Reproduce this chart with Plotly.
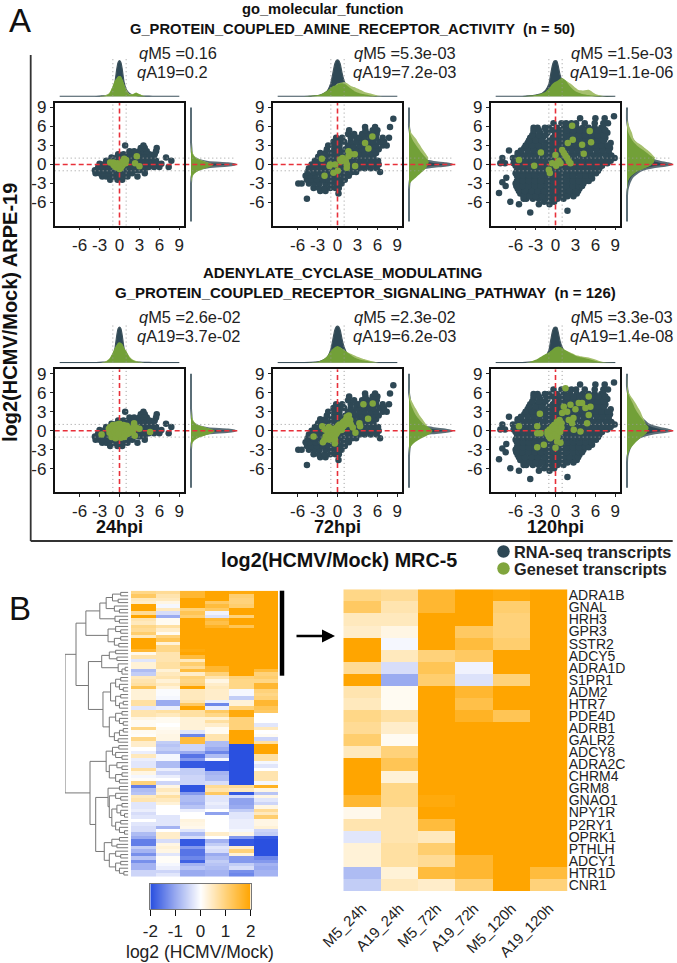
import plotly.graph_objects as go

W, H = 677, 963

# ---------- scatter clouds: {log2 ARPE-19 level: [log2 MRC-5 values]} (same background cloud in both rows)
DARK_24 = {
 -2.4:[-1.4,-.3,.4], -1.9:[-2.6,-2,-1.4,-.8,-.1,.6,1.2,2.7],
 -1.4:[-3.6,-3,-2.4,-1.6,-.9,-.2,.5,1.2,1.9,3.8],
 -.9:[-3.7,-3,-2.3,-1.5,-.8,0,.8,1.5,2.3,3,3.8],
 -.4:[-3.2,-2.5,-1.7,-1,-.2,.6,1.4,2.1,2.9,3.6,4.4,5.2,6,7.4],
 .1:[-3,-2.2,-1.4,-.6,.2,1,1.8,2.5,3.3,4,4.8,5.4,6.3],
 .6:[-2,-1.3,-.5,.3,1.1,1.9,2.6,3.4,4.2,4.9,5.5,7.8],
 1.1:[-1.2,-.4,.4,1.2,2,2.8,3.5,4.3,5.1,7],
 1.6:[-.2,.6,1.4,2.2,3,3.7,4.5,5.3],
 2.1:[1.5,2.2,3,3.6,4.1,5.5], 2.6:[3.2,3.8,5.6], 3.0:[.85,3.6],
}
DARK_72 = {
 -5.4:[-4.6], -4.6:[.15], -4.2:[-2.6,-1.8],
 -3.7:[-3.6,-2.8,-1.9,-1.1,-.3,.2],
 -3.0:[-5.9,-5.4,-4.3,-3.5,-2.7,-1.8,-1,-.2,.6],
 -2.4:[-4.6,-3.9,-3.1,-2.2,-1.4,-.5,.3,1.1],
 -1.8:[-4.8,-4.1,-3.3,-2.4,-1.6,-.8,0,.9,1.7],
 -1.2:[-4.5,-3.6,-2.8,-2,-1.2,-.3,.5,1.3,2.2,2.8,6.4],
 -.6:[-4.3,-3.5,-2.6,-1.8,-.9,-.1,.8,1.6,2.4,3.3,4.1,5,5.9],
 0:[-3.9,-3.1,-2.2,-1.4,-.5,.3,1.2,2,2.9,3.7,4.6,5.4,6.2],
 .6:[-3.4,-2.7,-1.8,-1,-.1,.7,1.6,2.4,3.3,4.1,5,5.8,6.1],
 1.2:[-2.9,-2.2,-1.4,-.5,.3,1.2,2,2.9,3.7,4.6,5.4],
 1.8:[-2.6,-1.8,-.9,-.1,.8,1.6,2.4,3.3,4.1,5,5.8],
 2.4:[-1.6,-.5,.3,1.2,2,2.9,3.7,4.6,5.4,6.2],
 3.0:[-1.4,-.5,.3,1.6,2.4,3.3,4.1,5,5.8,6.8,7.4],
 3.6:[-.6,.1,1,2,2.9,3.7,4.6,5.4,6.3,7],
 4.2:[-.2,.7,2,2.9,3.3,4.1,5,5.8,6.8,7.75],
 4.8:[1.6,2.5,3.7,4.6,5.4,5.9], 5.4:[1.75,4.2,5.3,6],
 5.9:[4.15,5.65,7.9], 7.2:[8.4],
}
DARK_120 = {
 -7.6:[-3.8], -7.3:[1.8], -6.3:[-5.5,-2.5,-.9], -5.9:[-6.8,-1.7,-.2], -4.5:[-8.5],
 -3.4:[-7.5], -2.8:[-8], -2.1:[-7.4], 2.2:[-7],
 -5.4:[-4.8,-4.4,-3.4,-2.5,-1.5,-.6,.3,1.2],
 -4.6:[-5.3,-4.3,-3.4,-2.5,-1.5,-.5,.4,1.4,2.3,3.2],
 -3.8:[-5.7,-4.8,-3.8,-2.9,-2,-1,-.1,.9,1.8,2.8,3.6],
 -3:[-6,-5.2,-4.3,-3.4,-2.4,-1.5,-.5,.4,1.3,2.3,3.3,4.2],
 -2.2:[-5.6,-4.7,-3.8,-2.9,-1.9,-1,0,.9,1.9,2.8,3.8,4.7,5.5],
 -1.4:[-6,-5.1,-4.2,-3.3,-2.4,-1.4,-.5,.5,1.4,2.3,3.3,4.2,5.2,6.1],
 -.6:[-5.6,-4.7,-3.7,-2.8,-1.9,-.9,0,1,1.9,2.9,3.8,4.8,5.7,6.6],
 .2:[-8.3,-7.6,-6.3,-5.2,-4.3,-3.3,-2.4,-1.4,-.5,.5,1.4,2.4,3.3,4.3,5.2,6.2,7.1,7.8],
 1:[-8,-6.4,-5.7,-4.7,-3.8,-2.9,-1.9,-1,0,.9,1.9,2.8,3.8,4.7,5.7,6.6,7.6,8.6,8.9],
 1.8:[-5.7,-5.2,-4.2,-3.3,-2.4,-1.4,-.5,.5,1.4,2.4,3.3,4.3,5.2,6.2,7.1,8],
 2.6:[-4.7,-3.8,-2.8,-1.9,-.9,0,1,1.9,2.9,3.8,4.8,5.7,6.7,7.6,8.2],
 3.4:[-4.2,-3.3,-2.4,-1.4,-.5,.5,1.4,2.4,3.3,4.3,5.2,6.2,7.1,8.3],
 4.2:[-3.8,-2.8,-1.9,-.4,.4,1.2,2.1,3,3.9,4.8,5.7,6.6,7.5],
 5:[-3.3,-2.3,-1.2,.3,1.3,2.2,3.1,4,5,5.9,6.8,7.8],
 5.8:[-3.3,-2.7,-1.6,-1,.2,1.3,2.2,3.2,4.1,5,5.9,6.9,7.2],
 6.5:[-.3,.9,1.6,2.4,3.1,4.4,5.9,7.2,7.9],
 7.3:[3.7,6,7.4], 7.6:[8.8],
}
DARK_120_B = {
 -5:[-4.8,-3.9,-3,-2,-1,-.1,.8,1.8,2.7],
 -4.2:[-5.5,-4.6,-3.6,-2.7,-1.7,-.8,.2,1.1,2.1,3,3.4],
 -3.4:[-5.9,-5,-4.1,-3.1,-2.2,-1.2,-.3,.7,1.6,2.6,3.5,4],
 -2.6:[-5.8,-4.9,-4,-3.1,-2.2,-1.2,-.3,.7,1.6,2.6,3.5,4.5,5],
 -1.8:[-5.8,-4.9,-4,-3.1,-2.1,-1.2,-.2,.7,1.7,2.6,3.6,4.5,5.4],
 -1:[-5.8,-4.9,-3.9,-3,-2.1,-1.2,-.2,.7,1.7,2.6,3.6,4.5,5.5,6.4],
 -.2:[-6,-5,-4,-3,-2.1,-1.2,-.2,.7,1.7,2.6,3.6,4.5,5.5,6.4,7],
 .6:[-6.2,-5.4,-4.5,-3.6,-2.6,-1.7,-.7,.2,1.2,2.1,3.1,4,5,5.9,6.9,7.7,8.3],
 1.4:[-5.7,-4.7,-3.8,-2.9,-1.9,-1,0,.9,1.9,2.8,3.8,4.7,5.7,6.6,7.6,8.4],
 2.2:[-5.2,-4.2,-3.3,-2.4,-1.4,-.5,.5,1.4,2.4,3.3,4.3,5.2,6.2,7.1,8],
 3:[-4.5,-3.5,-2.6,-1.6,-.7,.3,1.2,2.2,3.1,4.1,5,6,6.9,7.9],
 3.8:[-4,-3,-2.1,-.9,.1,.9,1.8,2.7,3.6,4.5,5.5,6.4,7.3],
 4.6:[-3.5,-2.5,-1.5,-.1,.8,1.7,2.6,3.5,4.5,5.4,6.3,7.3],
 5.4:[-3.3,-2.5,-1.4,-.4,.8,1.7,2.7,3.6,4.5,5.5,6.4,7.5],
}

# ---------- geneset points (x = MRC-5, y = ARPE-19)
G1_24_X = [-1.4,-.9,-.6,-.4,-.2,0,.2,.4,.6,.8,1,-.6,-.2,.2,.5,.7,-.3,0,2.6,2.35,3,-.9,.9]
G1_24_Y = [.3,.3,0,-.3,-.5,-.7,-.5,-.2,.1,.4,.7,-.4,-.1,.1,.5,.9,.2,-.2,1.3,.2,-.3,-.1,.2]
G1_72_X = [-2.35,-1.2,-1.95,-.6,.05,.55,.9,1.65,2,2.6,1.65,1.4,1.4,2.65,4.15,4.65,5.25,-.35,-1.1,.75,.4,1.25]
G1_72_Y = [.9,-.25,-1.8,-1.3,-1,.5,.8,2.1,1.6,1.6,1.3,0,-.5,-.25,3.4,2.5,4.4,0,0,1,.8,.5]
G1_120_X = [-5.5,-3.2,-2.2,-.85,-1,-.5,0,.25,.75,1,1.25,1.75,2.25,1.85,2.5,2.6,4,4.25,5.15,5.35,.5,1.5,2,.1]
G1_120_Y = [.7,-.2,1.9,-1.35,-.85,.2,1.5,.2,.2,2.3,1.8,1,.2,3.4,6.1,3.9,3.1,1.7,5.3,3.5,.6,1.4,.5,-.2]
G2_24_X = [-2.7,-1.6,-1.5,-1.4,-1.3,-1.2,-1.1,-1,-1,-.9,-.8,-.7,-.7,-.6,-.5,-.4,-.4,-.3,-.2,-.1,0,0,.1,.2,.3,.3,.4,.5,.6,.7,.8,.9,1,1.1,1.2,1.3,1.4,1.6,1.8,2,2.2,2.3,2.5,3,4.6,-.6,.2,.7,-.2]
G2_24_Y = [-.6,.3,-.3,.6,0,-1,.5,-.5,.9,.1,-.8,.7,-.2,.3,-.6,1,.1,-.9,.6,-.2,1.1,-.7,.3,-1.1,.8,-.3,.1,-.7,.9,.2,-.4,.5,-.1,.8,-.5,.3,.1,-.3,.4,-.2,1.2,-.8,.5,.3,-.2,-1.2,.6,-1,-.5]
G2_72_X = [-3.6,-2.3,-2.2,-2,-1.9,-1.8,-1.6,-1.5,-1.3,-1.2,-1.1,-1,-.9,-.8,-.7,-.6,-.5,-.4,-.3,-.2,-.1,0,.1,.2,.3,.4,.5,.6,.8,.9,1,1.2,1.3,1.5,1.7,1.9,2,2.3,2.7,3.3,3.4,3.9,4.6,5.3,-.4,.6,-1.3,1.4]
G2_72_Y = [-.9,.7,-1.8,-1.5,.2,-.9,-1.2,-.2,-.9,-1.4,.1,-.5,-1,-.1,-.6,.3,-.4,-1.3,.1,-.5,.5,-.2,.8,.2,1,.3,.7,.2,1.3,.7,1.5,1,1.8,1.2,2.4,1.7,1,.5,-.3,1.2,.7,4.2,1.9,4.3,-2,.1,.6,2.2]
G2_120_X = [-5.5,-2.35,-2.75,-2.75,-2.25,-2.75,-1.75,-1.2,-1,-.8,-.6,-.4,-.2,0,.1,.3,.5,.6,.7,.9,-1.2,-.9,-.5,-.2,.2,.6,.25,0,.75,1.5,5,3.5,4,4.5,5.25,5,4.75,2.25,1.25,1,1.75,2.5,2,2.75,3.75,3,2.7,.4,-.2,.9]
G2_120_Y = [.7,2.7,.7,-.4,-.4,-2.6,-2.2,-.5,-.9,-1.2,-.4,-.9,-.1,-.6,.3,-.9,.5,1,-.2,1.2,-.1,.2,.6,.9,1.4,1.7,-1.7,-2.7,-1.9,6.7,5.4,4.4,4.4,3.6,3.8,2.5,1.2,4.1,3.8,2.8,3,1.2,1.7,.15,-.1,3.4,2,.1,.4,.5]

# ---------- marginal densities
GRID = [-9,-6,-5,-4,-3,-2.5,-2,-1.5,-1,-.7,-.4,-.2,0,.2,.4,.7,1,1.5,2,2.5,3,3.5,4,5,6,7,9]
TOP_NAVY_24 = [0,0,0,0,.005,.01,.02,.04,.12,.35,.72,.89,.93,.89,.72,.36,.18,.07,.03,.02,.01,.005,.005,0,0,0,0]
TOP_NAVY_72 = [0,0,0,.005,.02,.04,.08,.15,.35,.6,.85,.93,.95,.93,.85,.6,.4,.22,.14,.08,.05,.03,.02,.01,0,0,0]
TOP_NAVY_120 = [0,0,0,.01,.03,.05,.08,.15,.32,.6,.85,.92,.93,.92,.8,.55,.4,.25,.17,.12,.09,.07,.05,.03,.01,0,0]
TOP1_M5_24 = [0,0,0,0,0,.005,.02,.08,.28,.41,.48,.52,.53,.52,.46,.32,.16,.04,.05,.09,.05,.01,0,0,0,0,0]
TOP1_A19_24 = [0,0,0,0,0,.01,.03,.1,.26,.38,.46,.5,.51,.5,.44,.3,.18,.06,.06,.1,.06,.02,0,0,0,0,0]
TOP1_M5_72 = [0,0,0,.01,.03,.05,.1,.15,.22,.26,.28,.29,.31,.33,.34,.34,.33,.27,.2,.14,.1,.07,.05,.02,0,0,0]
TOP1_A19_72 = [0,0,0,0,.01,.02,.04,.08,.14,.2,.26,.3,.33,.34,.35,.36,.37,.33,.27,.24,.2,.16,.12,.07,.02,0,0]
TOP1_M5_120 = [0,0,0,.01,.03,.05,.08,.12,.2,.27,.33,.36,.38,.4,.42,.46,.48,.42,.3,.2,.13,.09,.06,.03,.01,0,0]
TOP1_A19_120 = [0,0,0,0,.01,.02,.05,.08,.12,.17,.22,.27,.3,.35,.38,.42,.46,.42,.36,.3,.22,.16,.15,.17,.06,.01,0]
TOP2_M5_24 = [0,0,0,0,0,.01,.03,.1,.27,.38,.47,.52,.53,.52,.49,.38,.3,.14,.06,.03,.01,0,0,0,0,0,0]
TOP2_A19_24 = [0,0,0,0,0,.01,.04,.11,.25,.36,.45,.5,.51,.5,.47,.37,.3,.16,.08,.04,.02,.01,0,0,0,0,0]
TOP2_M5_72 = [0,0,0,.005,.02,.05,.1,.18,.3,.36,.4,.42,.43,.42,.4,.36,.33,.26,.2,.14,.1,.07,.05,.02,0,0,0]
TOP2_A19_72 = [0,0,0,0,.01,.03,.07,.14,.25,.31,.36,.38,.4,.4,.39,.36,.33,.27,.23,.19,.15,.12,.09,.04,.01,0,0]
TOP2_M5_120 = [0,0,0,.01,.07,.12,.17,.22,.27,.31,.35,.38,.4,.41,.42,.41,.38,.32,.27,.22,.18,.15,.13,.09,.04,.01,0]
TOP2_A19_120 = [0,0,0,.005,.05,.09,.14,.19,.24,.28,.31,.34,.36,.37,.38,.38,.36,.32,.28,.24,.2,.18,.16,.13,.08,.02,0]
RIGHT_NAVY_24 = [0,0,0,0,0,.005,.01,.03,.1,.2,.42,.8,1,.82,.38,.18,.09,.03,.015,.01,.005,0,0,0,0,0,0]
RIGHT_NAVY_72 = [0,0,0,0,.01,.02,.04,.07,.15,.26,.5,.8,.96,.8,.55,.35,.26,.18,.14,.11,.09,.06,.04,.02,0,0,0]
RIGHT_NAVY_120 = [0,0,0,.01,.05,.08,.12,.2,.3,.42,.62,.85,1,.9,.75,.58,.48,.4,.33,.27,.22,.17,.12,.06,.02,0,0]
RIGHT1_M5_24 = [0,0,0,0,0,.005,.02,.06,.16,.27,.4,.47,.5,.42,.33,.2,.11,.05,.02,.01,0,0,0,0,0,0,0]
RIGHT1_A19_24 = [0,0,0,0,0,.01,.03,.07,.17,.26,.37,.44,.47,.42,.34,.22,.13,.06,.03,.01,.005,0,0,0,0,0,0]
RIGHT1_M5_72 = [0,0,0,0,.02,.08,.16,.24,.32,.36,.39,.41,.42,.43,.44,.42,.38,.32,.26,.21,.16,.11,.07,.02,0,0,0]
RIGHT1_A19_72 = [0,0,0,0,.01,.02,.05,.1,.17,.22,.27,.3,.32,.35,.38,.41,.43,.39,.34,.29,.25,.2,.16,.05,.01,0,0]
RIGHT1_M5_120 = [0,0,0,.005,.01,.03,.07,.15,.26,.36,.46,.52,.55,.58,.6,.61,.6,.5,.41,.31,.22,.15,.1,.03,0,0,0]
RIGHT1_A19_120 = [0,0,0,0,.01,.02,.04,.08,.14,.2,.26,.3,.35,.4,.46,.55,.63,.57,.5,.41,.33,.22,.15,.11,.05,.005,0]
RIGHT2_M5_24 = [0,0,0,0,0,.005,.02,.07,.2,.33,.45,.51,.53,.48,.38,.24,.12,.05,.02,.01,0,0,0,0,0,0,0]
RIGHT2_A19_24 = [0,0,0,0,0,.01,.03,.08,.2,.31,.42,.48,.5,.46,.37,.25,.14,.06,.03,.01,.005,0,0,0,0,0,0]
RIGHT2_M5_72 = [0,0,0,0,.01,.04,.1,.2,.33,.41,.48,.51,.52,.5,.47,.4,.33,.26,.2,.15,.11,.08,.05,.01,0,0,0]
RIGHT2_A19_72 = [0,0,0,0,.005,.02,.05,.12,.2,.28,.35,.38,.4,.41,.42,.41,.38,.33,.28,.23,.19,.15,.11,.04,.01,0,0]
RIGHT2_M5_120 = [0,0,0,.01,.06,.11,.17,.24,.32,.38,.43,.45,.46,.47,.48,.47,.43,.38,.32,.27,.22,.18,.15,.08,.02,0,0]
RIGHT2_A19_120 = [0,0,0,.005,.02,.05,.1,.15,.2,.25,.3,.33,.35,.37,.39,.41,.41,.39,.36,.33,.3,.26,.22,.13,.04,.01,0]

# ---------- labels
TICK_VALS = [-6,-3,0,3,6,9]
TICK_TEXT = ["-6","-3","0","3","6","9"]
HPI = ["24hpi","72hpi","120hpi"]
Q_TEXT = [[("0.16","0.2"),("5.3e-03","7.2e-03"),("1.5e-03","1.1e-06")],
          [("2.6e-02","3.7e-02"),("2.3e-02","6.2e-03"),("3.3e-03","1.4e-08")]]
COLS = ["M5_24h","A19_24h","M5_72h","A19_72h","M5_120h","A19_120h"]
GENES = ["ADRA1B","GNAL","HRH3","GPR3","SSTR2","ADCY5","ADRA1D","S1PR1","ADM2","HTR7","PDE4D","ADRB1","GALR2",
         "ADCY8","ADRA2C","CHRM4","GRM8","GNAO1","NPY1R","P2RY1","OPRK1","PTHLH","ADCY1","HTR1D","CNR1"]
KEY_VALS = [-2,-1,0,1,2]
KEY_TEXT = ["-2","-1","0","1","2"]

# ---------- heatmap values
HEAT_TOP = [
 [.9,.8,1.6,2,1.9,2],[1.2,.6,1.6,2,1.1,2],[.5,.5,2,2,1,2],[.4,.2,2,1.2,1,2],[2,-.1,2,1.5,1.1,2],
 [2,.5,1,1.2,2,2],[.8,-.4,1.3,-.15,2,2],[2,-1,1.1,-.35,1,2],[.6,.1,2,1.6,2,2],[.5,.1,2,1.4,2,2],
 [.9,.7,2,1.7,1.3,2],[.8,.4,2,2,2,2],[1.1,.1,2,2,2,2],[.5,1,2,2,2,2],[2,1.3,2,2,2,2],
 [2,.3,2,2,2,2],[2,.9,2,2,2,2],[1.6,.9,1.9,2,2,2],[.15,.6,2,2,2,2],[.6,.6,1.5,2,2,2],
 [-.3,.6,.5,2,2,2],[.3,.7,1.1,2,2,2],[.3,.7,.8,1.6,2,2],[-.8,.3,1.5,1.6,2,1.5],[-.6,.5,.4,1,2,1],
]
HEAT_REST = [
 [.5,.6,1,.6,1,1.1],[.6,.3,.9,.2,.9,.9],[.7,.5,1,.4,.9,1.6],[1.3,.3,2,.5,.9,1.6],[.3,-.05,.5,.4,-.1,1],
 [.3,-.05,.5,.4,-.1,.9],[.3,-.1,.5,.4,-.6,1],[.7,-1,.6,-.2,.3,1.6],[.7,-1,1.2,-1.4,.3,1.6],[-.3,-.2,2,-.2,1,1.3],
 [.6,.7,.7,1.2,1.9,1.2],[.6,.5,.7,.9,1.9,0],[.2,.1,.3,.3,1,0],[.1,.1,.3,.7,1,0],[.1,0,.3,.4,1,-.3],
 [.9,.1,.3,.1,1,.5],[.1,.15,-.3,.1,2,0],[.05,.2,-1.4,.6,2,.1],[.9,.2,1.5,.6,2,-.5],[.4,-.6,1.5,-.8,2,.7],
 [.4,-.7,-.5,-.8,-2,2],[0,-.6,-.5,-1,-2,2],[-.2,-.8,-1,-1.4,-2,2],[.5,-.1,-1.6,-.8,-2,.7],[-.2,-.1,-1.2,-.1,-2,.7],
 [-.3,-.8,-1.9,-1.95,-2,-.1],[-.3,-.8,-1.9,-1.95,-2,-.3],[.7,-.2,-.6,-1.95,-2,0],[.2,-.5,-.6,-.9,-2,.6],
 [-.1,-.2,-.5,-.8,-2,.6],[.05,0,-.5,-.8,-2,.6],[1,-.5,-.5,-.4,-2,-.1],[-1.5,.2,-1.95,.8,.8,1.7],[-.8,.5,-1.95,.6,.5,.2],
 [-.7,.3,-1.2,1.2,-1.9,-.7],[.5,.7,-.8,-.3,-.4,.2],[.6,.5,-.8,-.3,-1.1,-.3],[-.3,.3,-.9,-.2,-1.1,-.5],[-.3,0,-.7,-.3,-1,.2],
 [-.2,0,-.2,0,-.6,.8],[-.4,0,0,-1.1,-.3,.5],[-.3,-.3,0,0,-.3,1.1],[0,-.3,.25,0,-.2,.2],[-.3,-.3,.2,0,-.2,.2],
 [-.4,-.9,.15,0,-.2,.3],[-.4,0,-.3,0,-.1,-.5],[-.8,.4,-.8,.4,.2,-.6],[-1,.4,-.4,0,-1.2,-1.9],[-1.5,-.4,-1.9,-.9,-1.9,-2],
 [-1.5,.2,-1.9,-.6,-1.9,-2],[-.6,.3,-1.2,-.3,.4,-2],[-.9,.2,-1.6,-.4,1,-2],[-1.3,-.3,-1.6,-1,.3,-2],[-.7,.05,-1.4,-.8,-1.2,-1.4],
 [-1.3,.05,-1.8,-.6,-1.2,-1.2],[-.9,-.1,-.9,-.7,-.6,-.9],[-.9,-.2,-.7,-.8,-.4,-1],[-.5,-.5,-1,-.9,-1.3,-.9],[-.5,-.3,-1,-.9,-1.4,-.9],
]

# ---------- dendrogram: [height, child, child]; 0 marks a leaf, numbered top to bottom
A1 = [.35,[.25,[.12,0,0],[.16,0,0]],[.22,0,[.14,0,0]]]
A2 = [.21,0,[.14,0,0]]
B = [.32,[.2,0,[.12,0,0]],[.22,[.12,0,0],[.15,0,0]]]
C = [.42,[.3,[.2,0,0],[.18,0,0]],[.16,0,[.1,[.05,0,0],0]]]
D = [.4,[.28,[.2,[.12,0,0],[.14,0,[.08,0,0]]],[.2,[.12,0,0],[.14,[.08,0,0],0]]],
     [.3,[.2,[.1,0,0],[.14,0,[.08,0,0]]],[.22,[.14,[.08,0,0],0],[.16,0,0]]]]
E = [.35,[.25,[.15,0,0],[.2,0,[.1,0,0]]],[.3,[.18,0,[.1,0,0]],[.2,[.1,0,0],[.14,0,0]]]]
F1 = [.32,[.14,0,0],[.3,[.2,0,[.12,0,0]],[.26,[.18,[.1,0,0],[.12,0,[.06,0,0]]],[.2,[.12,0,0],[.14,0,[.06,0,0]]]]]]
F2 = [.38,[.26,[.14,0,0],[.18,0,0]],[.3,[.2,0,[.12,0,0]],[.2,[.12,0,0],[.14,0,[.07,0,0]]]]]
TREE = [1,[.826,[.67,[.45,A1,A2],B],[.63,C,D]],[.605,E,[.515,F1,F2]]]

# ---------- colours
NAVY = "#2e4855"; GREEN = "#80a53d"; LIGHT = "#a6c06e"; MID = "#72a038"; RED = "#e8303a"; DOT = "#9a9a9a"
COLORSCALE = [[0,"#2a50e0"],[.25,"#9aabf0"],[.5,"#ffffff"],[.75,"#ffd27a"],[1,"#ffa500"]]
FONT = "Liberation Sans, Arial, sans-serif"

def dx(a, b): return [a / W, b / W]
def dy(t, b): return [1 - b / H, 1 - t / H]

fig = go.Figure()
layout = {}
nax = [0]
def new_axes(xdom, ydom, xa, ya):
    nax[0] += 1
    n = nax[0]
    s = "" if n == 1 else str(n)
    layout["xaxis" + s] = dict(domain=xdom, anchor="y" + s, automargin=False, **xa)
    layout["yaxis" + s] = dict(domain=ydom, anchor="x" + s, automargin=False, **ya)
    return "x" + s, "y" + s

HIDE = dict(visible=False, showgrid=False, zeroline=False, fixedrange=True)

def flat(*tables):
    xs, ys = [], []
    for rows in tables:
        for y, row in rows.items():
            for x in row:
                xs.append(x); ys.append(y)
    return xs, ys

COL_L = [54.7, 272.7, 490.7]
PANEL_W = 129.6
ROW_T = [103.0, 369.3]
PANEL_H = 122.6
DARKS = [flat(DARK_24), flat(DARK_72), flat(DARK_120, DARK_120_B)]
GREENS = [[(G1_24_X,G1_24_Y),(G1_72_X,G1_72_Y),(G1_120_X,G1_120_Y)],
          [(G2_24_X,G2_24_Y),(G2_72_X,G2_72_Y),(G2_120_X,G2_120_Y)]]
TOP_NAVY = [TOP_NAVY_24,TOP_NAVY_72,TOP_NAVY_120]
RIGHT_NAVY = [RIGHT_NAVY_24,RIGHT_NAVY_72,RIGHT_NAVY_120]
TOPS = [[(TOP1_M5_24,TOP1_A19_24),(TOP1_M5_72,TOP1_A19_72),(TOP1_M5_120,TOP1_A19_120)],
        [(TOP2_M5_24,TOP2_A19_24),(TOP2_M5_72,TOP2_A19_72),(TOP2_M5_120,TOP2_A19_120)]]
RIGHTS = [[(RIGHT1_M5_24,RIGHT1_A19_24),(RIGHT1_M5_72,RIGHT1_A19_72),(RIGHT1_M5_120,RIGHT1_A19_120)],
          [(RIGHT2_M5_24,RIGHT2_A19_24),(RIGHT2_M5_72,RIGHT2_A19_72),(RIGHT2_M5_120,RIGHT2_A19_120)]]
XR = [-9.75, 9.75]
YR = [-9.65, 9.7]
AX = dict(showgrid=False, zeroline=False, showline=True, mirror=True, linewidth=1.7, linecolor="#111",
          ticks="outside", ticklen=3, tickwidth=1, tickcolor="#222", tickmode="array",
          tickvals=TICK_VALS, ticktext=TICK_TEXT, tickfont=dict(size=17, family=FONT, color="#222"), fixedrange=True)
DOTTED = "1px,3px"

def line(xa, ya, xs, ys, color, dash, width=1):
    fig.add_trace(go.Scatter(x=xs, y=ys, mode="lines", xaxis=xa, yaxis=ya, showlegend=False, hoverinfo="skip",
                             line=dict(color=color, dash=dash, width=width)))

def dens(xa, ya, xs, ys, fill, fillc, lc, lw):
    fig.add_trace(go.Scatter(x=xs, y=ys, mode="lines", fill=fill, fillcolor=fillc, xaxis=xa, yaxis=ya, showlegend=False,
                             hoverinfo="skip", line=dict(color=lc, width=lw, shape="spline", smoothing=.7)))

for r in range(2):
    t = ROW_T[r]
    for c in range(3):
        l = COL_L[c]
        # top density
        xa, ya = new_axes(dx(l, l + PANEL_W), dy(t - 45, t - 6), dict(range=XR, **HIDE), dict(range=[-.02, 1], **HIDE))
        dens(xa, ya, GRID, TOP_NAVY[c], "tozeroy", NAVY, "#3d525c", 1.2)
        m5, a19 = TOPS[r][c]
        dens(xa, ya, GRID, a19, "tozeroy", LIGHT, LIGHT, 0)
        dens(xa, ya, GRID, m5, "tozeroy", MID, MID, 0)
        for v in (-1, 1):
            line(xa, ya, [v, v], [0, .97], DOT, DOTTED)
        # right density
        xa, ya = new_axes(dx(l + PANEL_W, l + PANEL_W + 55), dy(t, t + PANEL_H),
                          dict(range=[-.149, 1.073], **HIDE), dict(range=YR, **HIDE))
        dens(xa, ya, RIGHT_NAVY[c], GRID, "tozerox", NAVY, "#5b6e77", 2)
        m5, a19 = RIGHTS[r][c]
        dens(xa, ya, a19, GRID, "tozerox", LIGHT, LIGHT, 0)
        dens(xa, ya, m5, GRID, "tozerox", MID, MID, 0)
        for v in (-1, 1):
            line(xa, ya, [-.149, 1], [v, v], DOT, DOTTED)
        line(xa, ya, [-.149, 1.05], [0, 0], RED, "5px,3px", 1.6)
        # scatter
        xa, ya = new_axes(dx(l, l + PANEL_W), dy(t, t + PANEL_H), dict(range=XR, **AX), dict(range=YR, **AX))
        xs, ys = DARKS[c]
        fig.add_trace(go.Scatter(x=xs, y=ys, mode="markers", xaxis=xa, yaxis=ya, showlegend=False, hoverinfo="skip",
                                 marker=dict(color=NAVY, size=6.5)))
        for v in (-1, 1):
            line(xa, ya, XR, [v, v], DOT, DOTTED)
            line(xa, ya, [v, v], YR, DOT, DOTTED)
        line(xa, ya, XR, [0, 0], RED, "5px,3px", 1.6)
        line(xa, ya, [0, 0], YR, RED, "5px,3px", 1.6)
        gx, gy = GREENS[r][c]
        fig.add_trace(go.Scatter(x=gx, y=gy, mode="markers", xaxis=xa, yaxis=ya, showlegend=False, hoverinfo="skip",
                                 marker=dict(color=GREEN, size=6.5)))

# dendrogram
seg_x, seg_y = [], []
leaf = [0]
def walk(node):
    if node == 0:
        leaf[0] += 1
        return 0, leaf[0] - 1
    h, a, b = node
    ha, ya_ = walk(a)
    hb, yb_ = walk(b)
    seg_x.extend([ha, h, h, hb, None])
    seg_y.extend([ya_, ya_, yb_, yb_, None])
    return h, (ya_ + yb_) / 2
walk(TREE)
HEAT_T, HEAT_B = 590.7, 876.7
xa, ya = new_axes(dx(65, 128.3), dy(HEAT_T, HEAT_B), dict(range=[1, 0], **HIDE), dict(range=[83.5, -.5], **HIDE))
fig.add_trace(go.Scatter(x=seg_x, y=seg_y, mode="lines", xaxis=xa, yaxis=ya, showlegend=False, hoverinfo="skip",
                         line=dict(color="#777", width=1)))

# left heatmap
xa, ya = new_axes(dx(131, 278), dy(HEAT_T, HEAT_B), dict(**HIDE), dict(autorange="reversed", **HIDE))
fig.add_trace(go.Heatmap(z=HEAT_TOP + HEAT_REST, x=COLS, y=list(range(84)), xaxis=xa, yaxis=ya, zmin=-2, zmax=2,
    colorscale=COLORSCALE, hoverinfo="skip", showscale=False))

# colour key, a small heatmap on its own axes
xa, ya = new_axes(dx(150.3, 250.7), dy(884, 909.3),
    dict(range=[-2, 2], showgrid=False, zeroline=False, showline=True, mirror=True, linecolor="#777", linewidth=1,
         ticks="outside", ticklen=6, tickcolor="#111", tickmode="array", tickvals=KEY_VALS, ticktext=KEY_TEXT,
         tickfont=dict(size=17, family=FONT, color="#222"), fixedrange=True),
    dict(range=[0, 1], showticklabels=False, ticks="", showgrid=False, zeroline=False, showline=True, mirror=True,
         linecolor="#777", linewidth=1, fixedrange=True))
fig.add_trace(go.Heatmap(z=[KEY_VALS, KEY_VALS], x=KEY_VALS, y=[0, 1], xaxis=xa, yaxis=ya, zmin=-2, zmax=2, zsmooth="best",
                         colorscale=COLORSCALE, showscale=False, hoverinfo="skip"))

# right heatmap
xa, ya = new_axes(dx(343.3, 567.7), dy(589.3, 891),
    dict(tickangle=-45, showgrid=False, zeroline=False, showline=False, ticks="outside", ticklen=2, tickcolor="rgba(0,0,0,0)",
         fixedrange=True, tickfont=dict(size=15, family=FONT, color="#222"), tickmode="array", tickvals=COLS, ticktext=COLS),
    dict(autorange="reversed", side="right", showgrid=False, zeroline=False, showline=False, ticks="", fixedrange=True,
         tickfont=dict(size=14, family=FONT, color="#222"), tickmode="array", tickvals=GENES, ticktext=GENES))
fig.add_trace(go.Heatmap(z=HEAT_TOP, x=COLS, y=GENES, xaxis=xa, yaxis=ya, zmin=-2, zmax=2, colorscale=COLORSCALE,
                         showscale=False, hoverinfo="skip"))

# legend dots
xa, ya = new_axes(dx(495, 512), dy(543, 577), dict(range=[-1, 1], **HIDE), dict(range=[1.5, -.5], **HIDE))
fig.add_trace(go.Scatter(x=[0, 0], y=[0, 1], mode="markers", xaxis=xa, yaxis=ya, showlegend=False, hoverinfo="skip",
                         marker=dict(color=[NAVY, GREEN], size=12.5)))

# annotations
ann = []
def text(x, y, s, size, bold=False, anchor="center", angle=0, color="#111"):
    if bold:
        s = "<b>" + s + "</b>"
    ann.append(dict(x=x / W, y=1 - y / H, xref="paper", yref="paper", text=s, showarrow=False, xanchor=anchor, yanchor="middle",
                    textangle=angle, font=dict(size=size, family=FONT, color=color)))

text(20, 20, "A", 33); text(20, 608, "B", 33)
text(322.5, 9, "go_molecular_function", 14.7, True)
text(352.5, 29, "G_PROTEIN_COUPLED_AMINE_RECEPTOR_ACTIVITY&nbsp;&nbsp;(n = 50)", 14.7, True)
text(342, 272.7, "ADENYLATE_CYCLASE_MODULATING", 15, True)
text(365.7, 292.7, "G_PROTEIN_COUPLED_RECEPTOR_SIGNALING_PATHWAY&nbsp;&nbsp;(n = 126)", 15, True)
text(200, 951.7, "log2 (HCMV/Mock)", 17.5, color="#222")
Q_Y = [(53, 72), (316.5, 335.5)]
Q_X = [(None), 457.7, 675]
for r in range(2):
    for c in range(3):
        a, b = Q_TEXT[r][c]
        l1, l2 = "<i>q</i>M5 =" + a, "<i>q</i>A19=" + b
        if c == 0:
            text(136.5, Q_Y[r][0], l1, 16.4, anchor="left", color="#222")
            text(134.5, Q_Y[r][1], l2, 16.4, anchor="left", color="#222")
        else:
            text(Q_X[c], Q_Y[r][0], l1, 16.4, anchor="right", color="#222")
            text(Q_X[c], Q_Y[r][1], l2, 16.4, anchor="right", color="#222")
for c in range(3):
    text(COL_L[c] + 65, 526.7, HPI[c], 18, True)
text(10, 313, "log2(HCMV/Mock) ARPE-19", 20, True, angle=-90)
text(338.5, 560, "log2(HCMV/Mock) MRC-5", 19.8, True)
text(512, 552, "RNA-seq transcripts", 16.3, True, anchor="left", color="#222")
text(512, 568.5, "Geneset transcripts", 16.3, True, anchor="left", color="#222")
ann.append(dict(x=335 / W, y=1 - 636 / H, ax=-40, ay=0, xref="paper", yref="paper",
                text="", showarrow=True, arrowhead=2, arrowsize=1, arrowwidth=2.6, arrowcolor="#000"))

shapes = [
    dict(type="line", xref="paper", yref="paper", x0=30.7 / W, x1=30.7 / W, y0=1 - 55 / H, y1=1 - 541 / H,
         line=dict(color="#333", width=1.8)),
    dict(type="line", xref="paper", yref="paper", x0=30.7 / W, x1=672.7 / W, y0=1 - 541 / H, y1=1 - 541 / H,
         line=dict(color="#333", width=1.8)),
    dict(type="line", xref="paper", yref="paper", x0=282 / W, x1=282 / W, y0=1 - 590.7 / H, y1=1 - 675.7 / H,
         line=dict(color="#000", width=4.5)),
]

fig.update_layout(width=W, height=H, autosize=False, margin=dict(l=0, r=0, t=0, b=0, autoexpand=False), paper_bgcolor="white",
                  plot_bgcolor="white", annotations=ann, shapes=shapes, showlegend=False, font=dict(family=FONT), **layout)

fig.write_html("out.html", config=dict(displayModeBar=False),
               post_script="document.body.style.margin='0';document.documentElement.style.overflow='hidden';")
